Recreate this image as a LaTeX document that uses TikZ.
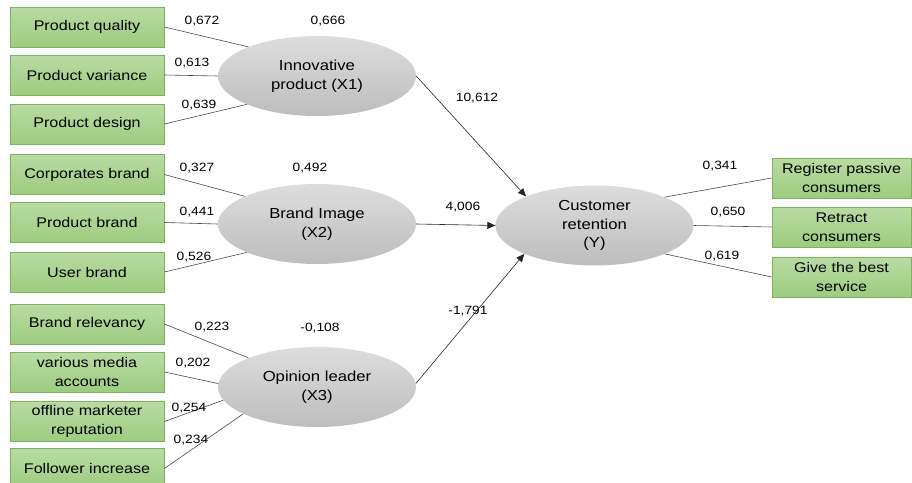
\documentclass[tikz,border=0pt]{standalone}
\usepackage{fontspec}
\setmainfont{Liberation Sans}[FakeStretch=1.15]
\usetikzlibrary{shapes.geometric,arrows.meta}
\definecolor{gtop}{HTML}{B8DBA3}
\definecolor{gbot}{HTML}{9DCC80}
\definecolor{gborder}{HTML}{7EB35C}
\definecolor{etop}{HTML}{DDDDDD}
\definecolor{ebot}{HTML}{BDBDBD}
\definecolor{lnc}{HTML}{4A4A4A}
\tikzset{
  ind/.style={draw=gborder, line width=0.8pt, top color=gtop, bottom color=gbot,
    minimum width=154pt, minimum height=40pt, inner sep=0pt, align=center,
    font=\fontsize{14}{18.5}\selectfont},
  indr/.style={ind, minimum width=139pt},
  lat/.style={ellipse, draw=none, top color=etop, bottom color=ebot,
    minimum width=198pt, minimum height=80pt, inner sep=0pt, align=center,
    font=\fontsize{14.5}{18.5}\selectfont},
  lbl/.style={font=\fontsize{12}{14}\selectfont, inner sep=0pt},
  ld/.style={draw=lnc, line width=0.6pt},
  path/.style={draw=black!85, line width=0.6pt, -{Triangle[length=8pt,width=7pt]}}
}
\begin{document}
\begin{tikzpicture}[x=1pt,y=-1pt]
\useasboundingbox (0,0) rectangle (912,482);
\clip (0,0) rectangle (912,482);
% left indicators
\node[ind] (pq) at (87,27) {Product quality};
\node[ind] (pv) at (87,75) {Product variance};
\node[ind] (pd) at (87,124) {Product design};
\node[ind] (cb) at (87,174.5) {Corporates brand};
\node[ind] (pb) at (87,222.5) {Product brand};
\node[ind] (ub) at (87,272) {User brand};
\node[ind] (br) at (87,324) {Brand relevancy};
\node[ind] (vm) at (87,372) {various media\\accounts};
\node[ind] (om) at (87,421.5) {offline marketer\\reputation};
\node[ind] (fi) at (87,468.5) {Follower increase};
% right indicators
\node[indr] (rp) at (841.5,178) {Register passive\\consumers};
\node[indr] (rc) at (841.5,227) {Retract\\consumers};
\node[indr] (gb) at (841.5,277) {Give the best\\service};
% latent
\node[lat] (x1) at (317,76) {Innovative\\product (X1)};
\node[lat] (x2) at (317,224) {Brand Image\\(X2)};
\node[lat] (x3) at (317,387) {Opinion leader\\(X3)};
\node[lat] (y) at (594.5,225.5) {Customer\\retention\\(Y)};
% loadings
\draw[ld] (pq.east) -- (x1.157.5);
\draw[ld] (pv.east) -- (x1.west);
\draw[ld] (pd.east) -- (x1.202);
\draw[ld] (cb.east) -- (x2.159);
\draw[ld] (pb.east) -- (x2.west);
\draw[ld] (ub.east) -- (x2.202);
\draw[ld] (br.east) -- (x3.157);
\draw[ld] (vm.east) -- (x3.178);
\draw[ld] (om.east) -- (x3.188);
\draw[ld] (fi.east) -- (x3.200);
\draw[ld] (y.22) -- (rp.west);
\draw[ld] (y.east) -- (rc.west);
\draw[ld] (y.338) -- (gb.west);
% paths
\draw[path] (x1.east) -- (y.157);
\draw[path] (x2.east) -- (y.west);
\draw[path] (x3.2) -- (y.202);
% labels
\node[lbl] (l1) at (202,21) {0,672};
\node[lbl] (l2) at (328,21) {0,666};
\node[lbl] (l3) at (192,63) {0,613};
\node[lbl] (l4) at (199,105) {0,639};
\node[lbl] (l5) at (477,98) {10,612};
\node[lbl] (l6) at (197,168) {0,327};
\node[lbl] (l7) at (310,168) {0,492};
\node[lbl] (l8) at (197,212) {0,441};
\node[lbl] (l9) at (194,257) {0,526};
\node[lbl] (l10) at (463,207) {4,006};
\node[lbl] (l11) at (212,327) {0,223};
\node[lbl] (l12) at (320,328) {-0,108};
\node[lbl] (l13) at (193,363) {0,202};
\node[lbl] (l14) at (189,408) {0,254};
\node[lbl] (l15) at (191,440) {0,234};
\node[lbl] (l16) at (468,311) {-1,791};
\node[lbl] (l17) at (720,166) {0,341};
\node[lbl] (l18) at (728,212) {0,650};
\node[lbl] (l19) at (722,256) {0,619};
\end{tikzpicture}
\end{document}
